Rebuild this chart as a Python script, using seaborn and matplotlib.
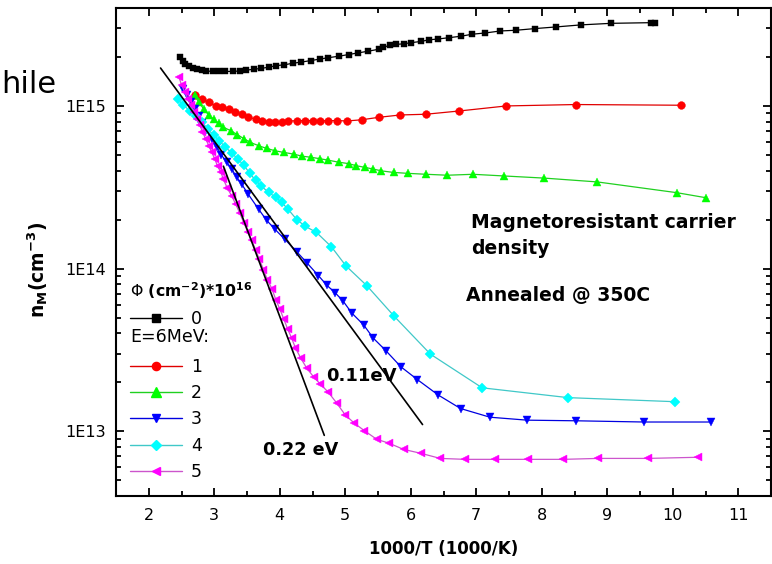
import matplotlib
matplotlib.use("Agg")
import matplotlib.pyplot as plt
import seaborn as sns
from matplotlib.lines import Line2D
from matplotlib.ticker import FixedLocator, FixedFormatter, LogLocator, NullFormatter, MultipleLocator

# ---------------- data ----------------
x0 = [2.47, 2.52, 2.56, 2.61, 2.67, 2.73, 2.81, 2.88, 2.98, 3.07, 3.17, 3.28, 3.39, 3.49, 3.60,
      3.71, 3.83, 3.95, 4.07, 4.20, 4.33, 4.47, 4.61, 4.74, 4.90, 5.05, 5.20, 5.35, 5.51, 5.58,
      5.69, 5.78, 5.89, 6.01, 6.15, 6.28, 6.42, 6.59, 6.76, 6.94, 7.14, 7.37, 7.61, 7.90, 8.22,
      8.60, 9.06, 9.67, 9.73]
y0 = [2.00e15, 1.90e15, 1.82e15, 1.77e15, 1.72e15, 1.68e15, 1.66e15, 1.64e15, 1.63e15, 1.63e15,
      1.63e15, 1.63e15, 1.64e15, 1.66e15, 1.68e15, 1.70e15, 1.73e15, 1.77e15, 1.79e15, 1.83e15,
      1.86e15, 1.90e15, 1.94e15, 1.98e15, 2.02e15, 2.07e15, 2.12e15, 2.17e15, 2.23e15, 2.30e15,
      2.36e15, 2.39e15, 2.41e15, 2.45e15, 2.49e15, 2.55e15, 2.58e15, 2.63e15, 2.68e15, 2.76e15,
      2.81e15, 2.89e15, 2.92e15, 2.99e15, 3.06e15, 3.15e15, 3.22e15, 3.25e15, 3.25e15]

x1 = [2.71, 2.81, 2.92, 3.02, 3.12, 3.22, 3.32, 3.42, 3.52, 3.63, 3.73, 3.83, 3.93, 4.03, 4.13,
      4.26, 4.38, 4.50, 4.62, 4.74, 4.88, 5.02, 5.25, 5.51, 5.84, 6.23, 6.74, 7.46, 8.52, 10.12]
y1 = [1.16e15, 1.10e15, 1.05e15, 1.00e15, 9.82e14, 9.51e14, 9.14e14, 8.87e14, 8.51e14, 8.32e14,
      8.13e14, 8.02e14, 7.96e14, 8.02e14, 8.07e14, 8.11e14, 8.13e14, 8.13e14, 8.11e14, 8.11e14,
      8.13e14, 8.08e14, 8.22e14, 8.51e14, 8.80e14, 8.89e14, 9.31e14, 1.00e15, 1.02e15, 1.01e15]

x2 = [2.70, 2.76, 2.84, 2.92, 2.99, 3.07, 3.14, 3.25, 3.35, 3.45, 3.55, 3.68, 3.80, 3.93, 4.06,
      4.21, 4.34, 4.47, 4.61, 4.74, 4.90, 5.05, 5.17, 5.30, 5.43, 5.55, 5.74, 5.96, 6.24, 6.56,
      6.95, 7.43, 8.04, 8.85, 10.06, 10.50]
y2 = [1.17e15, 1.06e15, 9.58e14, 8.74e14, 8.26e14, 7.80e14, 7.39e14, 7.05e14, 6.67e14, 6.30e14,
      5.97e14, 5.69e14, 5.48e14, 5.30e14, 5.18e14, 5.06e14, 4.91e14, 4.84e14, 4.74e14, 4.64e14,
      4.51e14, 4.42e14, 4.29e14, 4.19e14, 4.09e14, 3.99e14, 3.90e14, 3.85e14, 3.80e14, 3.75e14,
      3.80e14, 3.71e14, 3.60e14, 3.41e14, 2.93e14, 2.73e14]

x3 = [2.53, 2.58, 2.64, 2.70, 2.76, 2.82, 2.88, 2.96, 3.04, 3.11, 3.19, 3.27, 3.34, 3.42, 3.52,
      3.68, 3.80, 3.93, 4.08, 4.26, 4.41, 4.59, 4.72, 4.85, 4.97, 5.10, 5.28, 5.43, 5.62, 5.85,
      6.10, 6.42, 6.76, 7.21, 7.78, 8.52, 9.56, 10.59]
y3 = [1.27e15, 1.17e15, 1.06e15, 9.58e14, 8.67e14, 7.85e14, 7.11e14, 6.26e14, 5.58e14, 4.99e14,
      4.51e14, 4.08e14, 3.65e14, 3.30e14, 2.86e14, 2.31e14, 1.98e14, 1.74e14, 1.51e14, 1.27e14,
      1.09e14, 9.06e13, 7.89e13, 7.08e13, 6.29e13, 5.33e13, 4.51e13, 3.73e13, 3.13e13, 2.49e13,
      2.08e13, 1.67e13, 1.38e13, 1.22e13, 1.17e13, 1.16e13, 1.14e13, 1.14e13]

x4 = [2.44, 2.53, 2.63, 2.72, 2.81, 2.90, 2.99, 3.08, 3.17, 3.27, 3.36, 3.45, 3.54, 3.63, 3.72,
      3.83, 3.94, 4.03, 4.13, 4.26, 4.39, 4.56, 4.79, 5.01, 5.33, 5.75, 6.30, 7.09, 8.40, 10.03]
y4 = [1.10e15, 1.01e15, 9.31e14, 8.67e14, 7.96e14, 7.21e14, 6.62e14, 6.08e14, 5.58e14, 5.13e14,
      4.71e14, 4.33e14, 3.86e14, 3.49e14, 3.21e14, 2.94e14, 2.74e14, 2.55e14, 2.31e14, 2.00e14,
      1.82e14, 1.67e14, 1.36e14, 1.04e14, 7.85e13, 5.08e13, 2.98e13, 1.85e13, 1.61e13, 1.52e13]

x5 = [2.46, 2.50, 2.55, 2.60, 2.64, 2.69, 2.73, 2.78, 2.82, 2.87, 2.92, 2.96, 3.01, 3.05, 3.10,
      3.14, 3.20, 3.27, 3.33, 3.39, 3.45, 3.51, 3.57, 3.63, 3.69, 3.75, 3.81, 3.88, 3.94, 4.00,
      4.06, 4.12, 4.18, 4.24, 4.32, 4.41, 4.52, 4.62, 4.74, 4.87, 5.00, 5.14, 5.29, 5.48, 5.67,
      5.89, 6.16, 6.45, 6.83, 7.29, 7.79, 8.33, 8.86, 9.62, 10.38]
y5 = [1.51e15, 1.35e15, 1.22e15, 1.10e15, 1.01e15, 9.18e14, 8.32e14, 7.64e14, 6.92e14, 6.26e14,
      5.66e14, 5.20e14, 4.71e14, 4.26e14, 3.92e14, 3.54e14, 3.12e14, 2.78e14, 2.48e14, 2.19e14,
      1.92e14, 1.69e14, 1.49e14, 1.31e14, 1.14e14, 9.87e13, 8.56e13, 7.53e13, 6.44e13, 5.66e13,
      4.91e13, 4.26e13, 3.75e13, 3.25e13, 2.82e13, 2.45e13, 2.15e13, 1.95e13, 1.74e13, 1.49e13,
      1.26e13, 1.12e13, 1.01e13, 8.93e12, 8.44e12, 7.74e12, 7.31e12, 6.81e12, 6.72e12, 6.72e12,
      6.72e12, 6.72e12, 6.81e12, 6.81e12, 6.92e12]

fit_011_x = [2.18, 6.18]
fit_011_y = [1.71e15, 1.10e13]
fit_022_x = [3.14, 4.68]
fit_022_y = [4.26e14, 9.44e12]

series_labels = ["0", "1", "2", "3", "4", "5"]
x_ticks = [2, 3, 4, 5, 6, 7, 8, 9, 10, 11]
y_ticks = [1e13, 1e14, 1e15]
y_tick_labels = ["1E13", "1E14", "1E15"]

# ---------------- style ----------------
sns.set_style("ticks")
plt.rcParams["font.family"] = ["DejaVu Sans"]
plt.rcParams["mathtext.fontset"] = "dejavusans"
plt.rcParams["text.color"] = "black"
plt.rcParams["axes.labelcolor"] = "black"
plt.rcParams["xtick.color"] = "black"
plt.rcParams["ytick.color"] = "black"

series = [
    (x0, y0, "black", "black", "s", 5.0),
    (x1, y1, "#FF0000", "#E00000", "o", 5.6),
    (x2, y2, "#00FF00", "#20D020", "^", 6.2),
    (x3, y3, "#0000FF", "#0000E0", "v", 6.0),
    (x4, y4, "#00FFFF", "#40C8C8", "D", 5.0),
    (x5, y5, "#FF00FF", "#CC55CC", "<", 6.0),
]

fig = plt.figure(figsize=(7.72, 5.64), dpi=100)
ax = fig.add_axes([116 / 772, 1 - 496 / 564, 655 / 772, 488 / 564])
ax.set_yscale("log")

for xs, ys, mc, lc, mk, ms in series:
    sns.lineplot(x=xs, y=ys, ax=ax, color=lc, marker=mk, markersize=ms,
                 markerfacecolor=mc, markeredgecolor=mc, markeredgewidth=0.3,
                 linewidth=0.9, estimator=None, sort=False, legend=False)

sns.lineplot(x=fit_011_x, y=fit_011_y, ax=ax, color="black", linewidth=1.2,
             estimator=None, sort=False, legend=False)
sns.lineplot(x=fit_022_x, y=fit_022_y, ax=ax, color="black", linewidth=1.2,
             estimator=None, sort=False, legend=False)

ax.set_xlim(1.5, 11.5)
ax.set_ylim(4e12, 4e15)

ax.xaxis.set_major_locator(FixedLocator(x_ticks))
ax.xaxis.set_minor_locator(MultipleLocator(0.5))
ax.yaxis.set_major_locator(FixedLocator(y_ticks))
ax.yaxis.set_major_formatter(FixedFormatter(y_tick_labels))
ax.yaxis.set_minor_locator(LogLocator(base=10, subs=range(2, 10)))
ax.yaxis.set_minor_formatter(NullFormatter())

ax.tick_params(which="both", direction="in", top=True, right=True, width=1.3, colors="black")
ax.tick_params(which="major", length=6)
ax.tick_params(which="minor", length=3.5)
ax.tick_params(axis="x", which="major", pad=9, labelsize=11.5)
ax.tick_params(axis="y", which="major", pad=7, labelsize=11.5)
for sp in ax.spines.values():
    sp.set_linewidth(1.5)
    sp.set_color("black")

ax.set_xlabel("1000/T (1000/K)", fontsize=12, fontweight="bold", labelpad=12)
ax.set_ylabel(r"n$_\mathbf{M}$(cm$^\mathbf{-3}$)", fontsize=13.5, fontweight="bold")
ax.yaxis.set_label_coords(-0.101, 0.464)

# annotations
ax.text(4.71, 2.19e13, "0.11eV", fontsize=13, fontweight="bold", va="center", ha="left")
ax.text(4.32, 7.64e12, "0.22 eV", fontsize=12.7, fontweight="bold", va="center", ha="center")
ax.text(6.92, 2.2e14, "Magnetoresistant carrier\ndensity", fontsize=13.5, fontweight="bold",
        va="top", ha="left", linespacing=1.45)
ax.text(6.85, 6.81e13, "Annealed @ 350C", fontsize=13.5, fontweight="bold", va="center", ha="left")

fig.text(0.002, 1 - 93 / 564, "hile", fontsize=22, va="baseline", ha="left")

# legends
def handle(i):
    xs, ys, mc, lc, mk, ms = series[i]
    return Line2D([], [], color=lc, marker=mk, markersize=ms + 0.3, markerfacecolor=mc,
                  markeredgecolor=mc, linewidth=1.0)

leg1 = ax.legend([handle(0)], [series_labels[0]],
                 title=r"$\Phi$ (cm$^\mathbf{-2}$)*10$^\mathbf{16}$",
                 title_fontproperties={"weight": "bold", "size": 11.3},
                 alignment="left", loc="upper left", bbox_to_anchor=(0.022, 0.441),
                 frameon=False, fontsize=12.5, handlelength=3.0, handletextpad=0.5,
                 borderpad=0, borderaxespad=0, labelspacing=0.5)
ax.add_artist(leg1)
leg2 = ax.legend([handle(i) for i in range(1, 6)], series_labels[1:],
                 title="E=6MeV:", title_fontproperties={"size": 12.5},
                 alignment="left", loc="upper left", bbox_to_anchor=(0.022, 0.345),
                 frameon=False, fontsize=12.5, handlelength=3.0, handletextpad=0.5,
                 borderpad=0, borderaxespad=0, labelspacing=0.47)
leg2._legend_box.sep = 9

fig.savefig("out.png", dpi=100)
